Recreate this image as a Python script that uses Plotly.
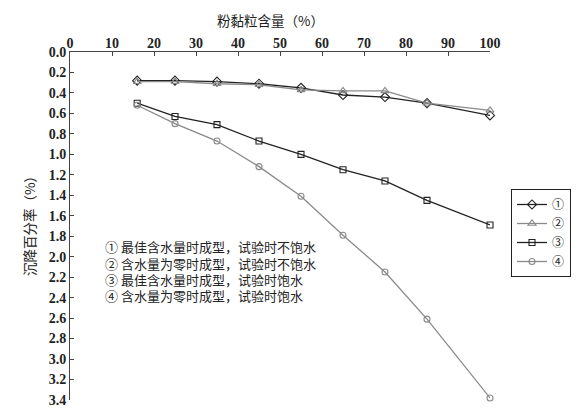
import plotly.graph_objects as go

x_vals = [16, 25, 35, 45, 55, 65, 75, 85, 100]
s1 = [0.28, 0.28, 0.29, 0.31, 0.35, 0.42, 0.44, 0.50, 0.62]
s2 = [0.29, 0.29, 0.31, 0.32, 0.37, 0.38, 0.38, 0.50, 0.57]
s3 = [0.50, 0.63, 0.71, 0.87, 1.00, 1.15, 1.26, 1.45, 1.69]
s4 = [0.52, 0.70, 0.87, 1.12, 1.41, 1.79, 2.15, 2.61, 3.38]
names = ["①", "②", "③", "④"]
notes = ["① 最佳含水量时成型，试验时不饱水",
         "② 含水量为零时成型，试验时不饱水",
         "③ 最佳含水量时成型，试验时饱水",
         "④ 含水量为零时成型，试验时饱水"]
x_title = "粉黏粒含量（%）"
y_title = "沉降百分率（%）"

dark = "#222222"
gray = "#8a8a8a"
styles = [("diamond-open", dark, 7), ("triangle-up-open", gray, 7),
          ("square-open", dark, 6), ("circle-open", gray, 6)]

fig = go.Figure()
for ys, nm, (sym, col, sz) in zip([s1, s2, s3, s4], names, styles):
    fig.add_trace(go.Scatter(
        x=x_vals, y=ys, name=nm, mode="lines+markers", cliponaxis=False,
        line=dict(color=col, width=1.3),
        marker=dict(symbol=sym, size=sz, color=col, line=dict(color=col, width=1.1)),
    ))

num_font = dict(family="Liberation Serif", size=14, color="#222", weight="bold")
cjk = "Noto Sans CJK SC"

# plot area in page pixels: x 70..490, y 52..400 (page has 8px body offset)
def px(xp):
    return (xp - 70) / 420

def py(yp):
    return (400 - yp) / 348

for i, t in enumerate(notes):
    fig.add_annotation(text=t, xref="paper", yref="paper",
                       x=px(103), y=py(247 + i * 16.2),
                       xanchor="left", yanchor="middle", showarrow=False,
                       font=dict(family=cjk, size=13, color="#222"))
fig.add_annotation(text=x_title, xref="paper", yref="paper",
                   x=px(270), y=py(20),
                   xanchor="center", yanchor="middle", showarrow=False,
                   font=dict(family=cjk, size=13.5, color="#222"))
fig.add_annotation(text=y_title, xref="paper", yref="paper",
                   x=px(29), y=py(223), textangle=-90,
                   xanchor="center", yanchor="middle", showarrow=False,
                   font=dict(family=cjk, size=13.5, color="#222"))

fig.update_layout(
    width=578, height=404,
    margin=dict(l=62, r=96, t=44, b=12),
    plot_bgcolor="white", paper_bgcolor="white",
    showlegend=True,
    legend=dict(x=px(511), y=py(189), xanchor="left", yanchor="top",
                bordercolor="#222", borderwidth=1, bgcolor="white",
                font=dict(family=cjk, size=12, color="#222"),
                tracegroupgap=0, itemwidth=30),
    xaxis=dict(side="top", range=[0, 100], dtick=10, tick0=0, automargin=False,
               showgrid=False, zeroline=False, showline=True,
               linecolor="#444", linewidth=1, ticks="inside", ticklen=4,
               tickcolor="#444", tickfont=num_font, ticklabelstandoff=-3),
    yaxis=dict(range=[3.4, 0], dtick=0.2, tick0=0, tickformat=".1f", automargin=False,
               showgrid=False, zeroline=False, showline=True,
               linecolor="#444", linewidth=1, ticks="inside", ticklen=4,
               tickcolor="#444", tickfont=num_font),
)

fig.write_html("out.html")
